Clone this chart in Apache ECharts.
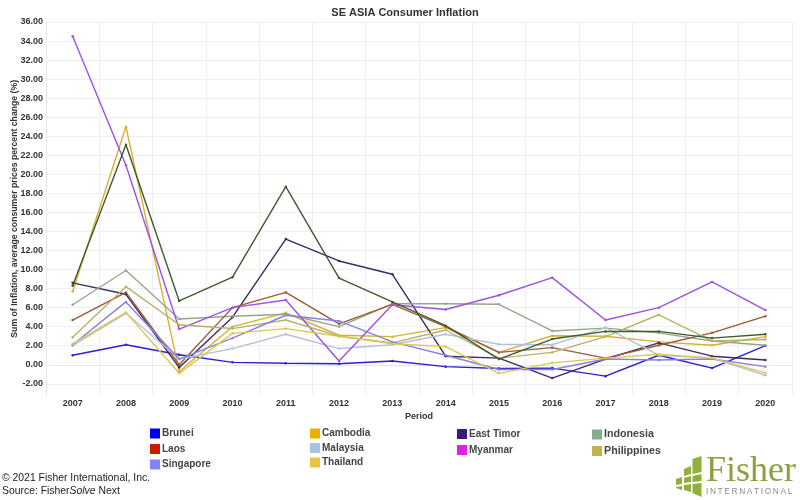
<!DOCTYPE html>
<html>
<head>
<meta charset="utf-8">
<style>html,body{margin:0;padding:0;background:#fff}#c{width:800px;height:500px}</style>
<script src="https://cdn.jsdelivr.net/npm/echarts@6/dist/echarts.min.js"></script>
</head>
<body>
<div id="c"></div>
<script>
const periods = ['2007','2008','2009','2010','2011','2012','2013','2014','2015','2016','2017','2018','2019','2020'];
const yTicks = [-2,0,2,4,6,8,10,12,14,16,18,20,22,24,26,28,30,32,34,36];

const brunei     = [1.0, 2.1, 1.05, 0.25, 0.15, 0.1, 0.4, -0.2, -0.4, -0.35, -1.2, 1.0, -0.35, 2.0];
const cambodia   = [7.7, 25.0, -0.7, 4.0, 5.45, 3.1, 2.95, 3.9, 1.3, 3.05, 3.0, 2.4, 2.05, 2.95];
const eastTimor  = [8.6, 7.4, -0.3, 5.0, 13.2, 10.9, 9.5, 0.9, 0.7, -1.4, 0.6, 2.3, 0.9, 0.5];
const indonesia  = [6.3, 9.9, 4.8, 5.1, 5.3, 4.0, 6.4, 6.4, 6.35, 3.55, 3.85, 3.35, 2.5, 2.05];
const laos       = [4.7, 7.6, 0.0, 6.0, 7.6, 4.3, 6.35, 4.0, 1.3, 1.8, 0.7, 2.05, 3.35, 5.1];
const malaysia   = [2.0, 5.4, 0.6, 1.7, 3.2, 1.7, 2.1, 3.2, 2.15, 2.1, 3.9, 1.0, 0.7, -1.1];
const myanmar    = [34.5, 20.95, 3.75, 6.0, 6.8, 0.4, 6.3, 5.8, 7.3, 9.15, 4.7, 6.0, 8.7, 5.75];
const philippines= [2.9, 8.2, 4.2, 3.8, 4.7, 3.0, 2.3, 3.65, 0.7, 1.3, 2.95, 5.25, 2.5, 2.65];
const singapore  = [2.1, 6.6, 0.6, 2.8, 5.2, 4.6, 2.4, 1.0, -0.5, -0.5, 0.6, 0.5, 0.6, -0.2];
const thailand   = [2.2, 5.5, -0.9, 3.3, 3.8, 3.0, 2.2, 1.9, -0.9, 0.2, 0.7, 1.1, 0.7, -0.85];
const vietnam    = [8.3, 23.1, 6.7, 9.2, 18.7, 9.1, 6.6, 4.1, 0.6, 2.7, 3.5, 3.5, 2.8, 3.2];

const seriesDefs = [
  ['Brunei', brunei, '#2a1fd8', '#0000f0'],
  ['Cambodia', cambodia, '#d9b030', '#eab000'],
  ['East Timor', eastTimor, '#3d2a63', '#3c1a78'],
  ['Indonesia', indonesia, '#93a88a', '#7fb08a'],
  ['Laos', laos, '#9c5a35', '#c81e00'],
  ['Malaysia', malaysia, '#b4c0dc', '#a9c0e2'],
  ['Myanmar', myanmar, '#a050e0', '#e020f0'],
  ['Philippines', philippines, '#b5b36a', '#bdb54c'],
  ['Singapore', singapore, '#8a80e0', '#8480f8'],
  ['Thailand', thailand, '#dcc850', '#eac43c'],
  ['Vietnam', vietnam, '#3f5a2c', '#3f5a2c']
];
const swatch = n => seriesDefs.find(s => s[0] === n)[3];
const legendOf = (names, left, top, gap, size) => ({
  left, top, padding: 0, orient: 'vertical', itemWidth: 10, itemHeight: 10, itemGap: gap, icon: 'rect',
  selectedMode: false,
  textStyle: {fontFamily: 'Liberation Sans', fontWeight: 'bold', fontSize: size, color: '#444', padding: [0,0,0,-3]},
  data: names.map(n => ({name: n, itemStyle: {color: swatch(n)}}))
});

const chart = echarts.init(document.getElementById('c'), null, {renderer: 'canvas'});
chart.setOption({
  animation: false,
  backgroundColor: '#fff',
  title: {text: 'SE ASIA Consumer Inflation', left: 400, top: 2, textAlign: 'center',
    textStyle: {fontFamily: 'Liberation Sans', fontWeight: 'bold', fontSize: 11, color: '#333'}},
  grid: {left: 46, right: 8, top: 22, height: 373.6, outerBoundsMode: 'none'},
  legend: [
    legendOf(['Brunei','Laos','Singapore'], 150, 428.5, 5.5, 10),
    legendOf(['Cambodia','Malaysia','Thailand'], 310, 428.5, 4.5, 10),
    legendOf(['East Timor','Myanmar'], 457, 429, 6, 10),
    legendOf(['Indonesia','Philippines'], 592, 429, 5.5, 10.7)
  ],
  xAxis: {
    type: 'category', data: periods, boundaryGap: true,
    name: 'Period', nameLocation: 'middle', nameGap: 15,
    nameTextStyle: {fontFamily: 'Liberation Sans', fontWeight: 'bold', fontSize: 9, color: '#333'},
    axisLine: {lineStyle: {color: '#e4e6ee'}},
    axisTick: {show: false},
    axisLabel: {fontFamily: 'Liberation Sans', fontWeight: 'bold', fontSize: 9, color: '#333', margin: 3},
    splitLine: {show: true, lineStyle: {color: '#eeeff5', width: 1}}
  },
  yAxis: {
    type: 'value', min: -3.24, max: 36,
    name: 'Sum of Inflation, average consumer prices percent change (%)',
    nameLocation: 'middle', nameGap: 27, nameRotate: 90, nameMoveOverlap: false,
    nameTextStyle: {fontFamily: 'Liberation Sans', fontWeight: 'bold', fontSize: 8.7, color: '#333'},
    axisLine: {show: true, lineStyle: {color: '#e4e6ee'}},
    axisTick: {show: false, customValues: yTicks},
    axisLabel: {customValues: yTicks, formatter: v => v.toFixed(2),
      fontFamily: 'Liberation Sans', fontWeight: 'bold', fontSize: 9, color: '#333', margin: 3},
    splitLine: {show: true, lineStyle: {color: '#eeeff5', width: 1}}
  },
  series: seriesDefs.map(([name, data, color]) => ({
    name, type: 'line', data, symbol: 'circle', symbolSize: 2.5, showSymbol: true,
    lineStyle: {color, width: 1.4}, itemStyle: {color}, emphasis: {disabled: true}
  })),
  graphic: [
    {type: 'text', left: 2, top: 473, style: {text: '© 2021 Fisher International, Inc.', font: '10.4px "Liberation Sans"', fill: '#222'}},
    {type: 'text', left: 2, top: 486, style: {
      text: '{a|Source: Fisher}{b|Solve}{a| Next}',
      rich: {a: {font: '10.4px "Liberation Sans"', fill: '#222'}, b: {font: 'italic 10.4px "Liberation Sans"', fill: '#222'}}
    }},
    {type: 'text', left: 706, top: 454, style: {text: 'Fisher', font: '36px "Liberation Serif"', fill: '#8aa23e'}},
    {type: 'text', left: 706, top: 488, style: {text: 'I\u2009N\u2009T\u2009E\u2009R\u2009N\u2009A\u2009T\u2009I\u2009O\u2009N\u2009A\u2009L', font: '8.3px "Liberation Sans"', fill: '#8a8a8a'}},
    ...[
      [[692.5,459],[701.5,456],[701.5,472],[692.5,474]],
      [[692.5,476],[701.5,474],[701.5,481],[692.5,482]],
      [[692.5,484],[701.5,483],[701.5,497],[692.5,493]],
      [[684,469],[691,466],[691,474],[684,476]],
      [[684,478],[691,476],[691,482],[684,483]],
      [[684,485],[691,484],[691,492],[684,490]],
      [[676,479],[682,477],[682,484],[676,485]],
      [[676,487],[682,486],[682,490],[676,488]]
    ].map(p => ({type: 'polygon', shape: {points: p}, style: {fill: '#8fb03a'}}))
  ]
});
</script>
</body>
</html>
